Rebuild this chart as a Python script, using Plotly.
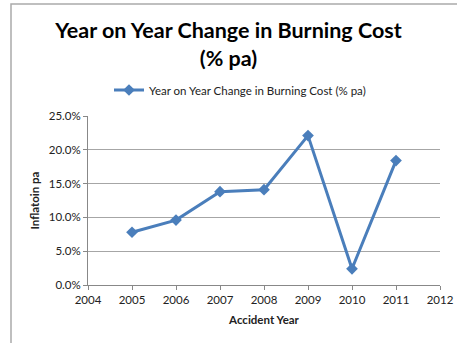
import plotly.graph_objects as go

years = [2005, 2006, 2007, 2008, 2009, 2010, 2011]
change = [0.078, 0.096, 0.138, 0.141, 0.221, 0.024, 0.184]
series_name = "Year on Year Change in Burning Cost (% pa)"
title_text = "Year on Year Change in Burning Cost<br>(% pa)"
y_ticks = [0, 0.05, 0.10, 0.15, 0.20, 0.25]
x_ticks = list(range(2004, 2013))

fig = go.Figure()
fig.add_trace(go.Scatter(
    x=years, y=change, mode="lines+markers", name=series_name,
    line=dict(color="#4a7ebb", width=3),
    marker=dict(symbol="diamond", size=9, color="#4a7ebb"),
))

font = "Lato, Open Sans, sans-serif"
fig.update_layout(
    width=457, height=343,
    margin=dict(l=88, r=17, t=116, b=58, autoexpand=False),
    paper_bgcolor="white", plot_bgcolor="white",
    font=dict(family=font, size=11.5, color="#222"),
    title=dict(text="<b>" + title_text + "</b>", x=0.5, xref="container", xanchor="center",
               y=1 - 38 / 343, yref="container", yanchor="middle",
               font=dict(size=21.5, family=font, color="black")),
    showlegend=True,
    legend=dict(orientation="h", x=240 / 457, xanchor="center", xref="container",
                y=1 - 90 / 343, yref="container", yanchor="middle",
                font=dict(size=11.5, family=font, color="#222"), itemwidth=30,
                bgcolor="rgba(0,0,0,0)"),
    xaxis=dict(range=[2004, 2012], tickvals=x_ticks, ticktext=[str(v) for v in x_ticks],
               showgrid=False, showline=True, linecolor="#888", linewidth=1,
               ticks="outside", ticklen=4, tickcolor="#888", zeroline=False,
               tickfont=dict(size=11.5),
               title=dict(text="<b>Accident Year</b>", font=dict(size=11.5, family=font), standoff=11)),
    yaxis=dict(range=[0, 0.25], tickvals=y_ticks, tickformat=".1%",
               showgrid=True, gridcolor="#a6a6a6", gridwidth=1,
               showline=True, linecolor="#888", linewidth=1,
               ticks="outside", ticklen=4, tickcolor="#888", zeroline=False,
               tickfont=dict(size=11.5),
               title=dict(text="<b>Inflatoin pa</b>", font=dict(size=11.5, family=font), standoff=6)),
)

fig.add_shape(type="rect", xref="paper", yref="paper",
              x0=(11 - 88) / (457 - 88 - 17), x1=(470 - 88) / (457 - 88 - 17),
              y0=-(400 - 285) / 169, y1=1 + (116 - 4) / 169,
              line=dict(color="#aaa", width=1.5), layer="below")

fig.write_html("out.html")
